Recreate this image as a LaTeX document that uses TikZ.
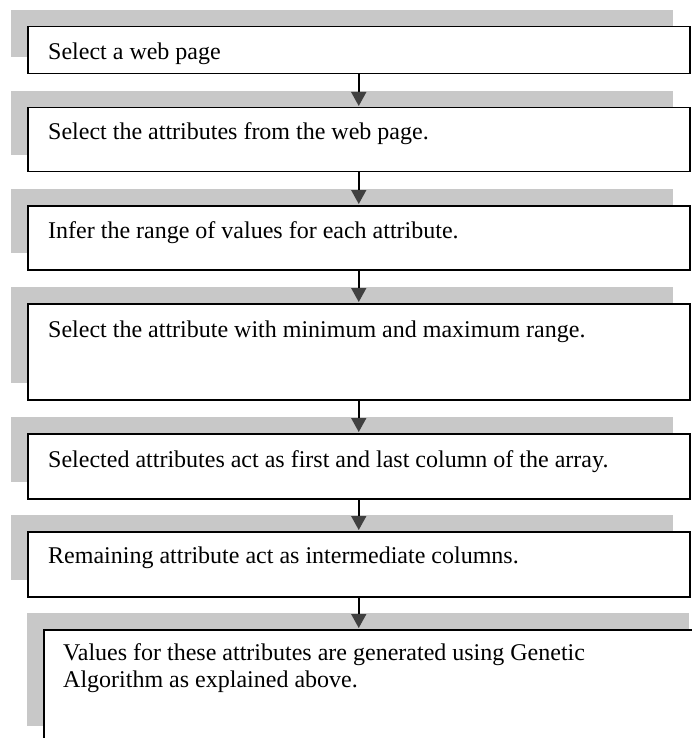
\documentclass[tikz,border=0pt]{standalone}
\usepackage{fontspec}
\setmainfont{Liberation Serif}
\usetikzlibrary{arrows.meta}
\definecolor{shadowgray}{HTML}{C8C8C8}
\definecolor{headgray}{HTML}{404040}
\tikzset{
  boxnode/.style={draw=black, line width=1.5pt, fill=white, rectangle, inner sep=0pt, anchor=north west},
  shadownode/.style={fill=shadowgray, draw=none, rectangle, inner sep=0pt, anchor=north west},
  lbl/.style={anchor=base west, inner sep=0pt, font=\fontsize{24}{27}\selectfont, align=left},
  arr/.style={draw=black, line width=1.6pt, -{Triangle[width=15pt,length=14pt,color=headgray]}, shorten >=1pt}
}
\begin{document}
\begin{tikzpicture}[x=1pt,y=-1pt]
\useasboundingbox (0,0) rectangle (692,738);
\clip (0,0) rectangle (692,738);
% shadows
\node[shadownode, minimum width=662pt, minimum height=47pt] (s1) at (11,10) {};
\node[shadownode, minimum width=662pt, minimum height=64pt] (s2) at (11,91) {};
\node[shadownode, minimum width=662pt, minimum height=64pt] (s3) at (11,189) {};
\node[shadownode, minimum width=662pt, minimum height=96pt] (s4) at (11,287) {};
\node[shadownode, minimum width=662pt, minimum height=65pt] (s5) at (11,417) {};
\node[shadownode, minimum width=662pt, minimum height=65pt] (s6) at (11,515) {};
\node[shadownode, minimum width=662pt, minimum height=113pt] (s7) at (27,613) {};
% boxes
\node[boxnode, minimum width=662pt, minimum height=47pt] (b1) at (27,26) {};
\node[boxnode, minimum width=662pt, minimum height=64pt] (b2) at (27,107) {};
\node[boxnode, minimum width=662pt, minimum height=64pt] (b3) at (27,205) {};
\node[boxnode, minimum width=662pt, minimum height=96pt] (b4) at (27,303) {};
\node[boxnode, minimum width=662pt, minimum height=65pt] (b5) at (27,433) {};
\node[boxnode, minimum width=662pt, minimum height=65pt] (b6) at (27,531) {};
\node[boxnode, minimum width=662pt, minimum height=140pt] (b7) at (43,629) {};
% texts
\node[lbl] (t1) at (48,60) {Select a web page};
\node[lbl] (t2) at (48,140) {Select the attributes from the web page.};
\node[lbl] (t3) at (48,238) {Infer the range of values for each attribute.};
\node[lbl] (t4) at (48,337) {Select the attribute with minimum and maximum range.};
\node[lbl] (t5) at (48,467) {Selected attributes act as first and last column of the array.};
\node[lbl] (t6) at (48,563) {Remaining attribute act as intermediate columns.};
\node[lbl] (t7) at (63,687) {Values for these attributes are generated using Genetic\\Algorithm as explained above.};
% arrows
\draw[arr] (b1.south) -- (b2.north);
\draw[arr] (b2.south) -- (b3.north);
\draw[arr] (b3.south) -- (b4.north);
\draw[arr] (b4.south) -- (b5.north);
\draw[arr] (b5.south) -- (b6.north);
\draw[arr] (b6.south) -- (b6.south |- b7.north);
\end{tikzpicture}
\end{document}
